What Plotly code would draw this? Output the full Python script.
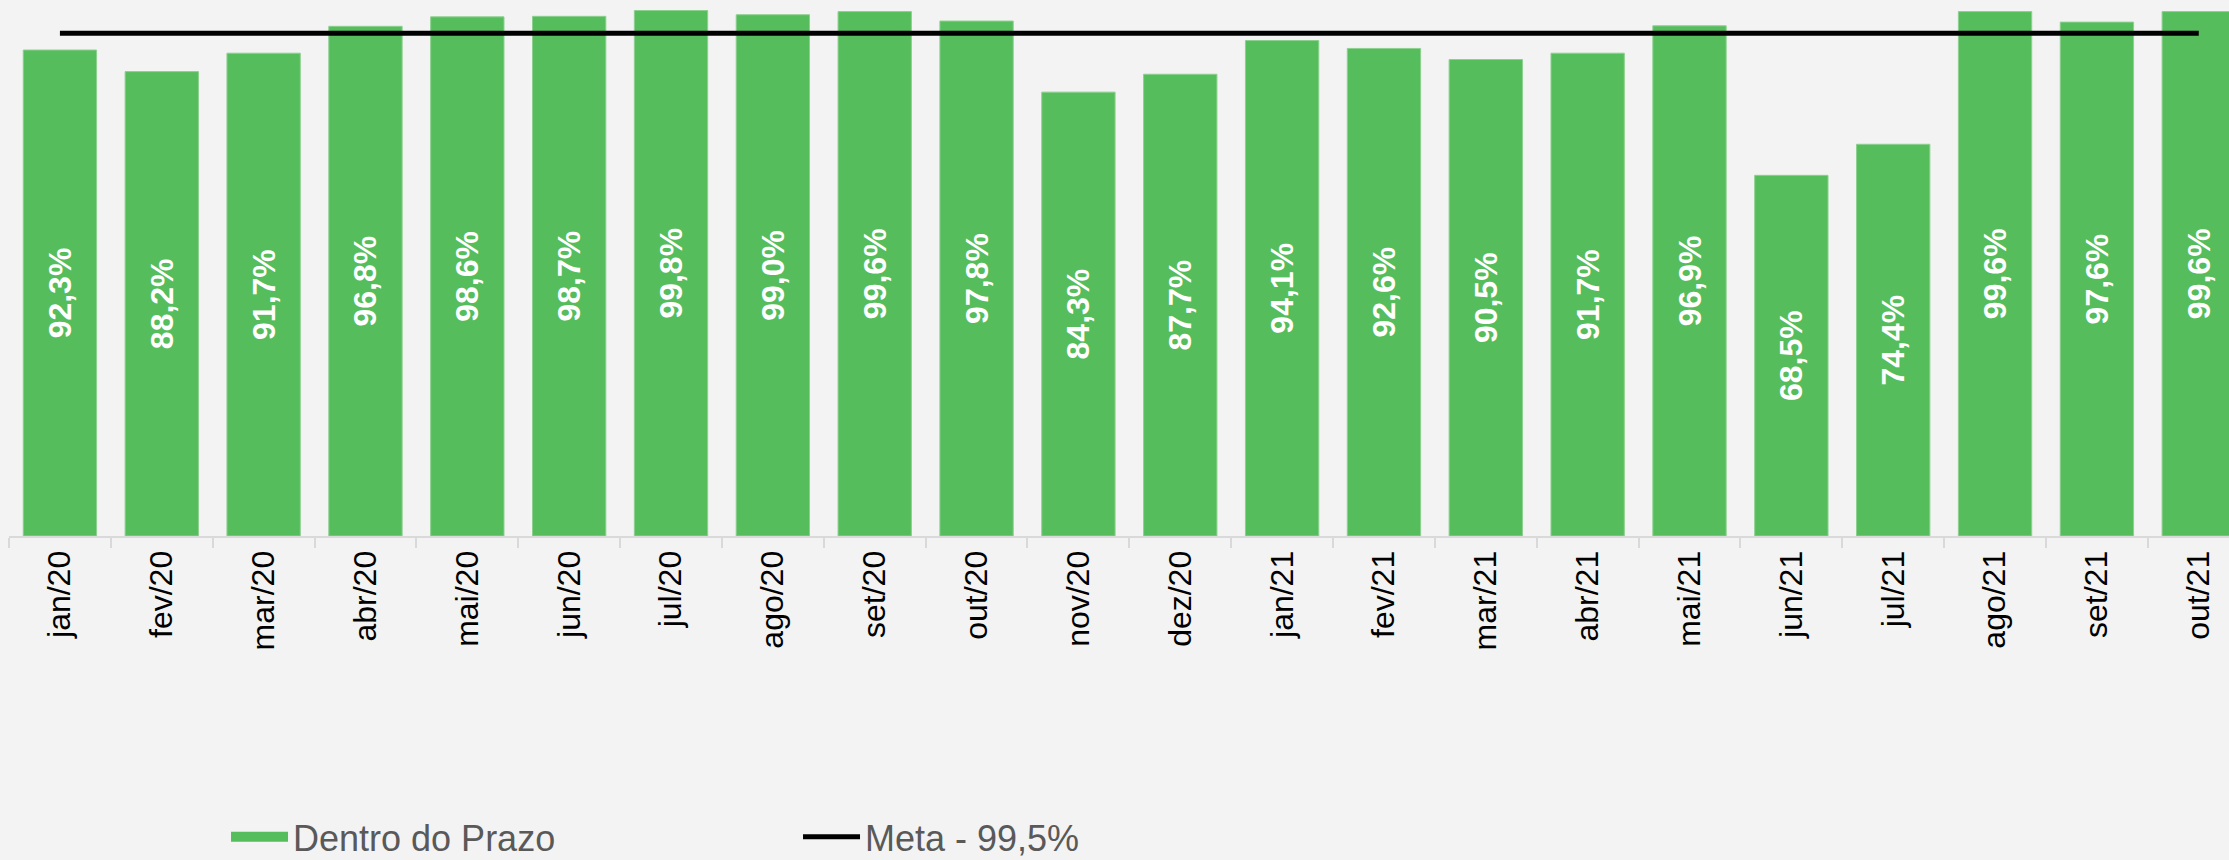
import plotly.graph_objects as go

categories = ["jan/20", "fev/20", "mar/20", "abr/20", "mai/20", "jun/20", "jul/20", "ago/20",
              "set/20", "out/20", "nov/20", "dez/20", "jan/21", "fev/21", "mar/21", "abr/21",
              "mai/21", "jun/21", "jul/21", "ago/21", "set/21", "out/21"]
dentro_prazo = [92.3, 88.2, 91.7, 96.8, 98.6, 98.7, 99.8, 99.0, 99.6, 97.8, 84.3, 87.7,
                94.1, 92.6, 90.5, 91.7, 96.9, 68.5, 74.4, 99.6, 97.6, 99.6]
meta = [99.5] * len(categories)

labels = [f"{v:.1f}%".replace(".", ",") for v in dentro_prazo]
GREEN = "#56BD5C"

fig = go.Figure()
fig.add_trace(go.Bar(
    x=categories, y=dentro_prazo, name="Dentro do Prazo",
    marker=dict(color=GREEN, line=dict(color="#8CD08F", width=1)),
    width=0.72, showlegend=False, legendgroup="dp",
    text=labels, textposition="inside", insidetextanchor="middle", textangle=-90,
    textfont=dict(family="Liberation Sans, Arial, sans-serif", size=32, color="white", weight="bold"),
    cliponaxis=True,
))
# legend entry for the bars (wide rectangle swatch, as in the reference)
fig.add_trace(go.Scatter(
    x=[None], y=[None], name="Dentro do Prazo", mode="lines", legendgroup="dp",
    line=dict(color=GREEN, width=19),
))
fig.add_trace(go.Scatter(
    x=categories, y=meta, name="Meta - 99,5%", mode="lines",
    line=dict(color="black", width=5), yaxis="y2",
))

fig.update_layout(
    width=2229, height=860,
    paper_bgcolor="#F3F3F3", plot_bgcolor="#F3F3F3",
    margin=dict(l=9, r=0, t=0, b=324),
    showlegend=True,
    legend=dict(
        orientation="h", xref="container", yref="container",
        x=0.1014, xanchor="left", y=0.027, yanchor="middle",
        font=dict(family="Liberation Sans, Arial, sans-serif", size=36, color="#595959"),
        entrywidth=500, entrywidthmode="pixels", bgcolor="rgba(0,0,0,0)",
        itemwidth=57,
    ),
    xaxis=dict(
        range=[-0.5, 21.297], tickangle=-90, showgrid=False,
        showline=True, linecolor="#D9D9D9", linewidth=2,
        ticks="outside", ticklen=10, tickcolor="#D9D9D9", tickwidth=2, tickson="boundaries",
        tickfont=dict(family="Liberation Sans, Arial, sans-serif", size=32, color="#000000"),
        fixedrange=True,
    ),
    yaxis=dict(range=[0, 101.8], visible=False, showgrid=False, zeroline=False),
    yaxis2=dict(range=[0, 106.1], overlaying="y", visible=False, showgrid=False, zeroline=False),
)

fig.write_html(
    "out.html",
    config={"displayModeBar": False},
    post_script="document.body.style.margin='0';document.body.style.background='#F3F3F3';",
)
